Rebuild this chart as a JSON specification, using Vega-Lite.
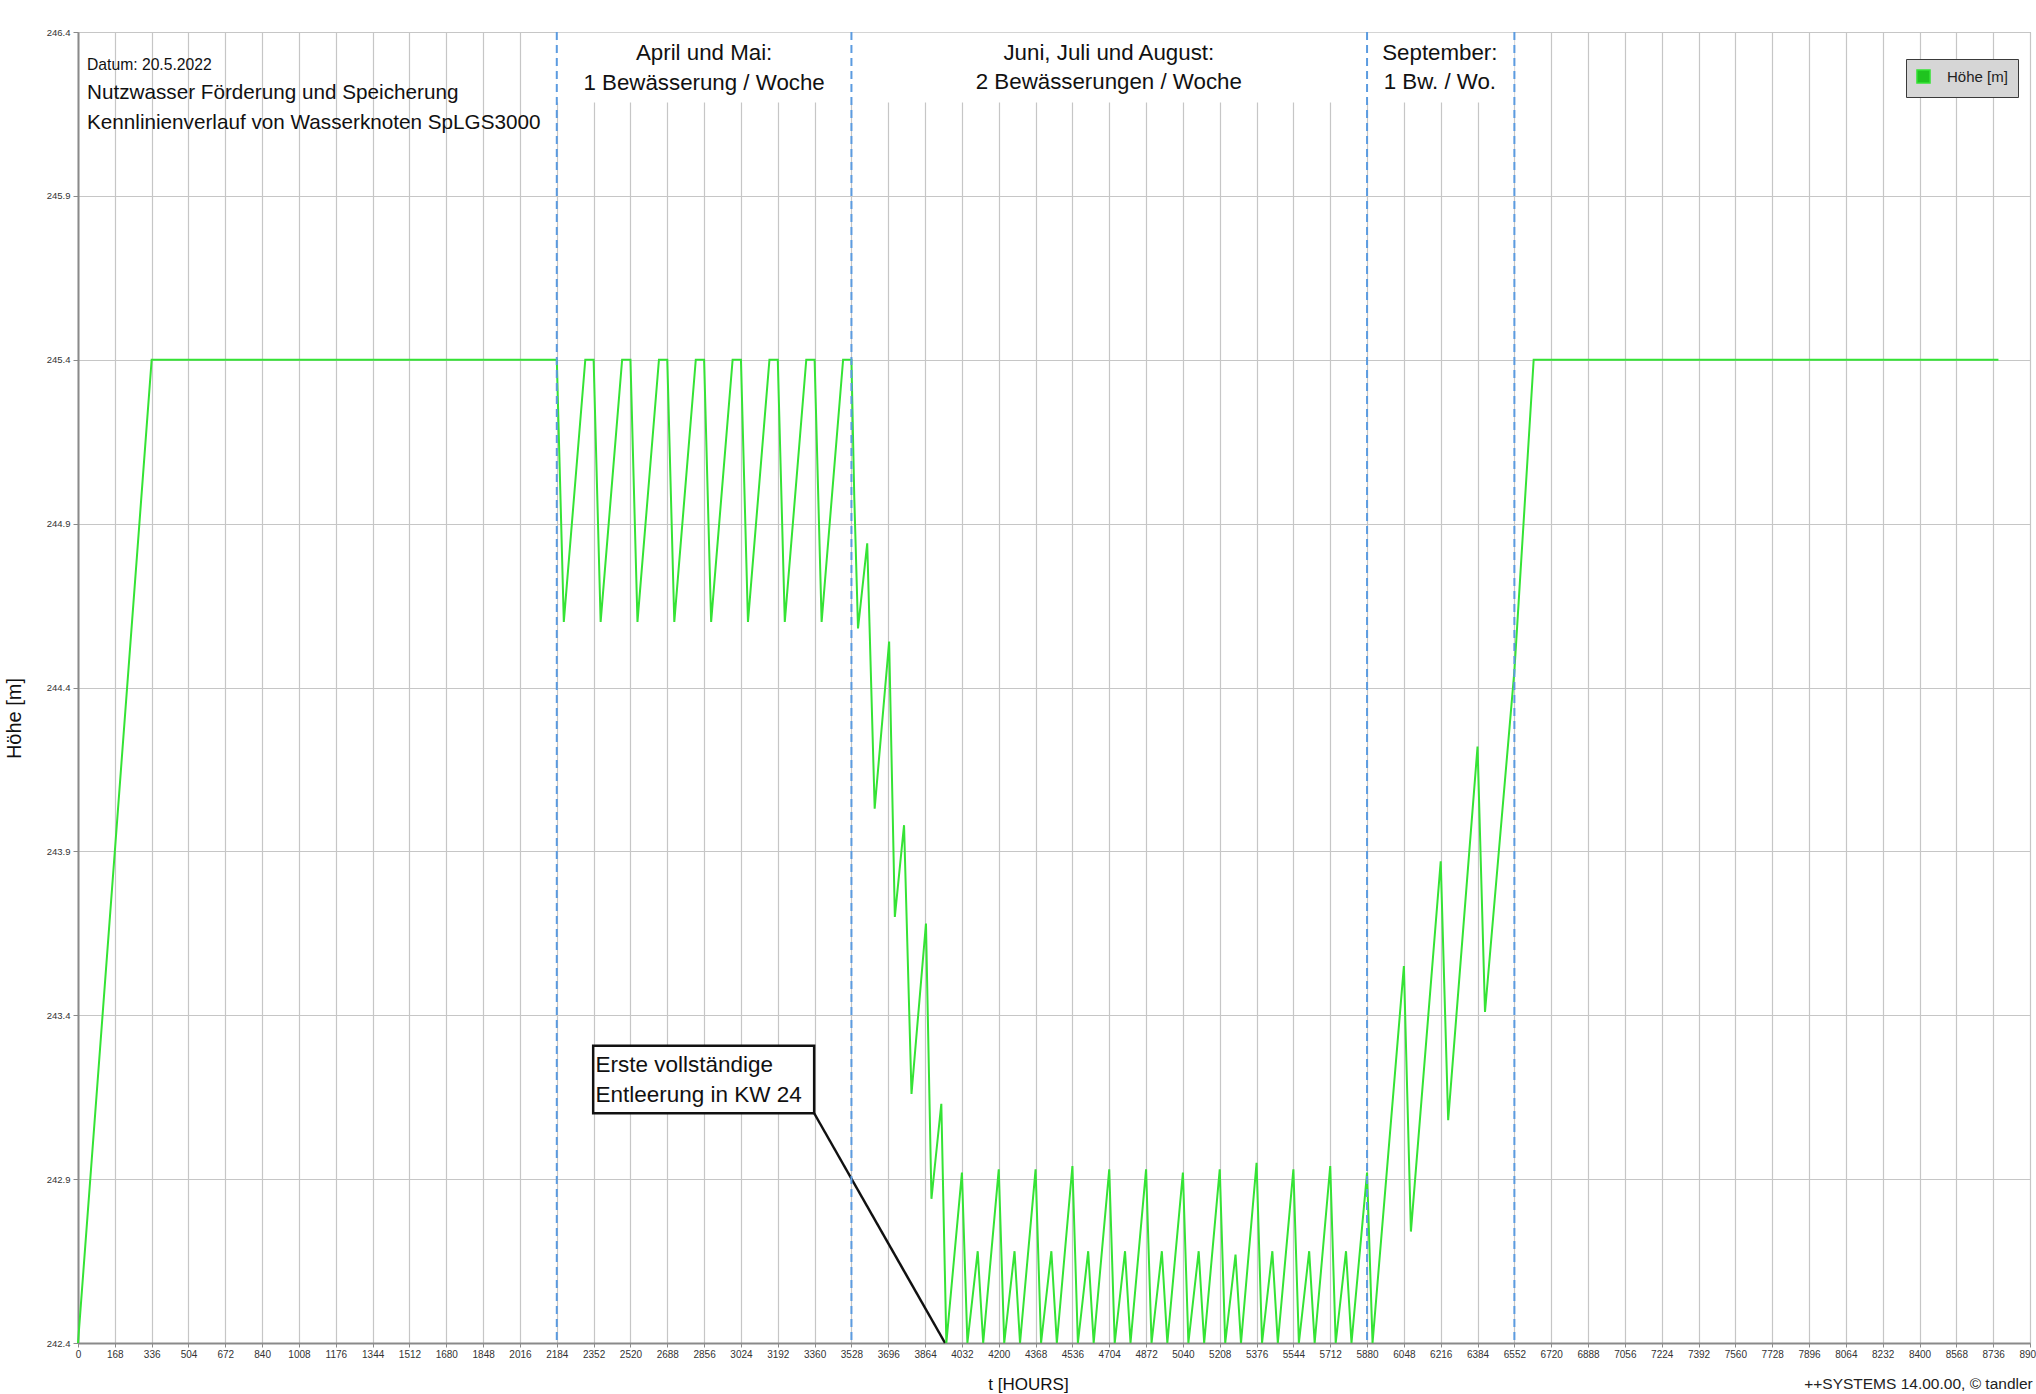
{
  "$schema": "https://vega.github.io/schema/vega-lite/v6.json",
  "width": 1952,
  "height": 1311,
  "autosize": {"type": "none"},
  "padding": {"left": 78, "top": 32, "right": 6, "bottom": 51},
  "background": "white",
  "config": {
    "font": "Liberation Sans",
    "view": {"stroke": "#9a9a9a", "strokeWidth": 1},
    "axis": {"gridColor": "#c6c6c6", "gridWidth": 1.2, "domainColor": "#8a8a8a", "domainWidth": 2, "tickColor": "#8a8a8a", "labelColor": "#333", "titleColor": "#111", "titleFontWeight": "normal"}
  },
  "datasets": {
    "level": [
      {"t": 0, "h": 242.4}, {"t": 336, "h": 245.4}, {"t": 2184, "h": 245.4},
      {"t": 2216, "h": 244.6}, {"t": 2314, "h": 245.4}, {"t": 2352, "h": 245.4},
      {"t": 2384, "h": 244.6}, {"t": 2482, "h": 245.4}, {"t": 2520, "h": 245.4},
      {"t": 2552, "h": 244.6}, {"t": 2650, "h": 245.4}, {"t": 2688, "h": 245.4},
      {"t": 2720, "h": 244.6}, {"t": 2818, "h": 245.4}, {"t": 2856, "h": 245.4},
      {"t": 2888, "h": 244.6}, {"t": 2986, "h": 245.4}, {"t": 3024, "h": 245.4},
      {"t": 3056, "h": 244.6}, {"t": 3154, "h": 245.4}, {"t": 3192, "h": 245.4},
      {"t": 3224, "h": 244.6}, {"t": 3322, "h": 245.4}, {"t": 3360, "h": 245.4},
      {"t": 3392, "h": 244.6}, {"t": 3490, "h": 245.4}, {"t": 3528, "h": 245.4},
      {"t": 3541, "h": 244.98}, {"t": 3558, "h": 244.58}, {"t": 3600, "h": 244.84},
      {"t": 3634, "h": 244.03}, {"t": 3700, "h": 244.54}, {"t": 3726, "h": 243.7},
      {"t": 3768, "h": 243.98}, {"t": 3802, "h": 243.16}, {"t": 3868, "h": 243.68},
      {"t": 3893, "h": 242.84}, {"t": 3938, "h": 243.13}, {"t": 3961, "h": 242.4},
      {"t": 4032, "h": 242.92}, {"t": 4057, "h": 242.4}, {"t": 4104, "h": 242.68}, {"t": 4129, "h": 242.4},
      {"t": 4200, "h": 242.93}, {"t": 4225, "h": 242.4}, {"t": 4272, "h": 242.68}, {"t": 4297, "h": 242.4},
      {"t": 4368, "h": 242.93}, {"t": 4393, "h": 242.4}, {"t": 4440, "h": 242.68}, {"t": 4465, "h": 242.4},
      {"t": 4536, "h": 242.94}, {"t": 4561, "h": 242.4}, {"t": 4608, "h": 242.68}, {"t": 4633, "h": 242.4},
      {"t": 4704, "h": 242.93}, {"t": 4729, "h": 242.4}, {"t": 4776, "h": 242.68}, {"t": 4801, "h": 242.4},
      {"t": 4872, "h": 242.93}, {"t": 4897, "h": 242.4}, {"t": 4944, "h": 242.68}, {"t": 4969, "h": 242.4},
      {"t": 5040, "h": 242.92}, {"t": 5065, "h": 242.4}, {"t": 5112, "h": 242.68}, {"t": 5137, "h": 242.4},
      {"t": 5208, "h": 242.93}, {"t": 5233, "h": 242.4}, {"t": 5280, "h": 242.67}, {"t": 5305, "h": 242.4},
      {"t": 5376, "h": 242.95}, {"t": 5401, "h": 242.4}, {"t": 5448, "h": 242.68}, {"t": 5473, "h": 242.4},
      {"t": 5544, "h": 242.93}, {"t": 5569, "h": 242.4}, {"t": 5616, "h": 242.68}, {"t": 5641, "h": 242.4},
      {"t": 5712, "h": 242.94}, {"t": 5737, "h": 242.4}, {"t": 5784, "h": 242.68}, {"t": 5809, "h": 242.4},
      {"t": 5880, "h": 242.92}, {"t": 5905, "h": 242.4}, {"t": 6048, "h": 243.55}, {"t": 6080, "h": 242.74},
      {"t": 6216, "h": 243.87}, {"t": 6250, "h": 243.08}, {"t": 6384, "h": 244.22}, {"t": 6418, "h": 243.41},
      {"t": 6552, "h": 244.45}, {"t": 6640, "h": 245.4}, {"t": 8760, "h": 245.4}
    ],
    "phases": [
      {"t": 2184, "h": 246.4, "h2": 242.4},
      {"t": 3528, "h": 246.4, "h2": 242.4},
      {"t": 5880, "h": 246.4, "h2": 242.4},
      {"t": 6552, "h": 246.4, "h2": 242.4}
    ],
    "band": [{"t": 2184, "t2": 6552, "h": 246.185, "h2": 246.398}],
    "box": [{"t": 2350, "t2": 3358, "h": 243.101, "h2": 243.307}],
    "leader": [{"t": 3358, "t2": 3955, "h": 243.101, "h2": 242.4}],
    "notesSmall": [{"t": 41, "h": 246.298, "label": "Datum: 20.5.2022"}],
    "notesTitle": [
      {"t": 41, "h": 246.214, "label": "Nutzwasser Förderung und Speicherung"},
      {"t": 41, "h": 246.122, "label": "Kennlinienverlauf von Wasserknoten SpLGS3000"}
    ],
    "phaseLabels": [
      {"t": 2856, "h": 246.335, "label": "April und Mai:"},
      {"t": 2856, "h": 246.243, "label": "1 Bewässerung / Woche"},
      {"t": 4702, "h": 246.337, "label": "Juni, Juli und August:"},
      {"t": 4702, "h": 246.248, "label": "2 Bewässerungen / Woche"},
      {"t": 6212, "h": 246.337, "label": "September:"},
      {"t": 6212, "h": 246.248, "label": "1 Bw. / Wo."}
    ],
    "boxText": [
      {"t": 2360, "h": 243.247, "label": "Erste vollständige"},
      {"t": 2360, "h": 243.156, "label": "Entleerung in KW 24"}
    ],
    "credit": [{"t": 7874, "h": 242.276, "label": "++SYSTEMS 14.00.00, © tandler"}]
  },
  "encoding": {
    "x": {
      "field": "t", "type": "quantitative",
      "scale": {"domain": [0, 8904], "nice": false, "zero": false},
      "axis": {
        "values": [0,168,336,504,672,840,1008,1176,1344,1512,1680,1848,2016,2184,2352,2520,2688,2856,3024,3192,3360,3528,3696,3864,4032,4200,4368,4536,4704,4872,5040,5208,5376,5544,5712,5880,6048,6216,6384,6552,6720,6888,7056,7224,7392,7560,7728,7896,8064,8232,8400,8568,8736,8904],
        "format": "d", "labelFontSize": 10, "labelAngle": 0, "labelOverlap": false, "labelFlush": false, "labelBound": false,
        "labelPadding": 2, "tickSize": 4, "grid": true,
        "title": "t [HOURS]", "titleFontSize": 17, "titleBaseline": "bottom", "titleY": 50, "titleX": 950
      }
    },
    "y": {
      "field": "h", "type": "quantitative",
      "scale": {"domain": [242.4, 246.4], "nice": false, "zero": false},
      "axis": {
        "values": [242.4, 242.9, 243.4, 243.9, 244.4, 244.9, 245.4, 245.9, 246.4],
        "format": ".1f", "labelFontSize": 9.5, "tickSize": 5, "labelPadding": 3, "grid": true,
        "title": "Höhe [m]", "titleFontSize": 20, "titleAngle": 270, "titleX": -54, "titleY": 686,
        "titleBaseline": "bottom", "titleAlign": "center"
      }
    }
  },
  "layer": [
    {
      "data": {"name": "band"},
      "mark": {"type": "rect", "fill": "white", "stroke": null},
      "encoding": {"x2": {"field": "t2"}, "y2": {"field": "h2"}}
    },
    {
      "data": {"name": "box"},
      "mark": {"type": "rect", "fill": "white", "stroke": "#111", "strokeWidth": 2.5},
      "encoding": {"x2": {"field": "t2"}, "y2": {"field": "h2"}}
    },
    {
      "data": {"name": "leader"},
      "mark": {"type": "rule", "color": "#111", "strokeWidth": 2.5},
      "encoding": {"x2": {"field": "t2"}, "y2": {"field": "h2"}}
    },
    {
      "data": {"name": "level"},
      "mark": {"type": "line", "strokeWidth": 2},
      "encoding": {
        "color": {
          "datum": "Höhe [m]", "type": "nominal",
          "scale": {"range": ["#35e335"]},
          "legend": {
            "orient": "none", "legendX": 1828, "legendY": 27, "title": null,
            "symbolType": "square", "symbolSize": 170, "symbolFillColor": "#1fc41f",
            "symbolStrokeColor": "#0b4d0b", "symbolStrokeWidth": 1.5,
            "labelFontSize": 15, "labelColor": "#222", "labelOffset": 16,
            "fillColor": "#d6d6d6", "strokeColor": "#3a3a3a", "padding": 10, "cornerRadius": 0
          }
        }
      }
    },
    {
      "data": {"name": "phases"},
      "mark": {"type": "rule", "color": "#5b9be0", "strokeWidth": 2, "strokeDash": [8, 5]},
      "encoding": {"y2": {"field": "h2"}}
    },
    {
      "data": {"name": "notesSmall"},
      "mark": {"type": "text", "align": "left", "baseline": "middle", "fontSize": 15.7, "color": "#111"},
      "encoding": {"text": {"field": "label"}}
    },
    {
      "data": {"name": "notesTitle"},
      "mark": {"type": "text", "align": "left", "baseline": "middle", "fontSize": 20.7, "color": "#111"},
      "encoding": {"text": {"field": "label"}}
    },
    {
      "data": {"name": "phaseLabels"},
      "mark": {"type": "text", "align": "center", "baseline": "middle", "fontSize": 22.3, "color": "#111"},
      "encoding": {"text": {"field": "label"}}
    },
    {
      "data": {"name": "boxText"},
      "mark": {"type": "text", "align": "left", "baseline": "middle", "fontSize": 22.5, "color": "#111"},
      "encoding": {"text": {"field": "label"}}
    },
    {
      "data": {"name": "credit"},
      "mark": {"type": "text", "align": "left", "baseline": "middle", "fontSize": 15.5, "color": "#222"},
      "encoding": {"text": {"field": "label"}}
    }
  ]
}
